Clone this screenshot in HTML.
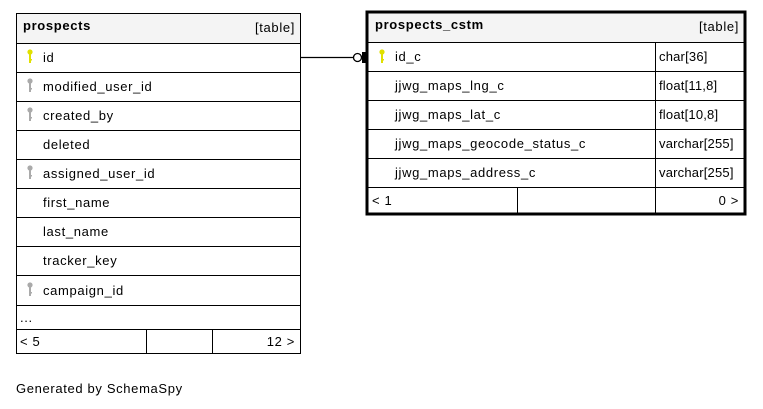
<!DOCTYPE html>
<html><head><meta charset="utf-8"><style>
html,body{margin:0;padding:0;background:#fff;width:763px;height:409px;overflow:hidden}
text{font-family:"Liberation Sans",Arial,sans-serif;font-size:13px;fill:#000;letter-spacing:0.65px}
</style></head><body>
<svg width="763" height="409" xmlns="http://www.w3.org/2000/svg">
<defs>
<g id="ky"><circle cx="0" cy="0" r="2.6"/><rect x="-1" y="2" width="2" height="9"/><rect x="0" y="7" width="2" height="1.5"/></g>
</defs>
<rect x="16.5" y="13.5" width="284" height="30" fill="#f4f4f4" stroke="#000"/>
<text x="23" y="30" font-weight="bold">prospects</text>
<text x="295" y="32" text-anchor="end">[table]</text>
<g stroke="#000" fill="#fff">
<rect x="16.5" y="43.5" width="284" height="29"/>
<rect x="16.5" y="72.5" width="284" height="29"/>
<rect x="16.5" y="101.5" width="284" height="29"/>
<rect x="16.5" y="130.5" width="284" height="29"/>
<rect x="16.5" y="159.5" width="284" height="29"/>
<rect x="16.5" y="188.5" width="284" height="29"/>
<rect x="16.5" y="217.5" width="284" height="29"/>
<rect x="16.5" y="246.5" width="284" height="29"/>
<rect x="16.5" y="275.5" width="284" height="30"/>
<rect x="16.5" y="305.5" width="284" height="24"/>
<rect x="16.5" y="329.5" width="130" height="24"/>
<rect x="146.5" y="329.5" width="66" height="24"/>
<rect x="212.5" y="329.5" width="88" height="24"/>
</g>
<use href="#ky" x="30" y="52" fill="#e0e000"/>
<use href="#ky" x="30" y="81" fill="#aaa"/>
<use href="#ky" x="30" y="110" fill="#aaa"/>
<use href="#ky" x="30" y="168" fill="#aaa"/>
<use href="#ky" x="30" y="285" fill="#aaa"/>
<text x="43" y="62">id</text>
<text x="43" y="91">modified_user_id</text>
<text x="43" y="120">created_by</text>
<text x="43" y="149">deleted</text>
<text x="43" y="178">assigned_user_id</text>
<text x="43" y="207">first_name</text>
<text x="43" y="236">last_name</text>
<text x="43" y="265">tracker_key</text>
<text x="43" y="295">campaign_id</text>
<text x="20" y="322">...</text>
<text x="20" y="346">&lt; 5</text>
<text x="295" y="346" text-anchor="end">12 &gt;</text>
<line x1="301" y1="57.5" x2="353" y2="57.5" stroke="#000" stroke-width="1.3"/>
<circle cx="357.5" cy="57.5" r="4" fill="#fff" stroke="#000" stroke-width="1.3"/>
<rect x="362" y="52" width="4" height="11" fill="#000"/>
<rect x="367.5" y="12.5" width="377" height="30" fill="#f4f4f4" stroke="#000"/>
<text x="375" y="29" font-weight="bold">prospects_cstm</text>
<text x="739" y="31" text-anchor="end">[table]</text>
<g stroke="#000" fill="#fff">
<rect x="367.5" y="42.5" width="288" height="29"/><rect x="655.5" y="42.5" width="89" height="29"/>
<rect x="367.5" y="71.5" width="288" height="29"/><rect x="655.5" y="71.5" width="89" height="29"/>
<rect x="367.5" y="100.5" width="288" height="29"/><rect x="655.5" y="100.5" width="89" height="29"/>
<rect x="367.5" y="129.5" width="288" height="29"/><rect x="655.5" y="129.5" width="89" height="29"/>
<rect x="367.5" y="158.5" width="288" height="29"/><rect x="655.5" y="158.5" width="89" height="29"/>
<rect x="367.5" y="187.5" width="150" height="26"/><rect x="517.5" y="187.5" width="138" height="26"/><rect x="655.5" y="187.5" width="89" height="26"/>
</g>
<rect x="367" y="12" width="378" height="202" fill="none" stroke="#000" stroke-width="3"/>
<use href="#ky" x="382" y="52" fill="#e0e000"/>
<text x="395" y="61">id_c</text>
<text x="395" y="90">jjwg_maps_lng_c</text>
<text x="395" y="119">jjwg_maps_lat_c</text>
<text x="395" y="148">jjwg_maps_geocode_status_c</text>
<text x="395" y="177">jjwg_maps_address_c</text>
<text x="659" y="61" style="letter-spacing:0.2px">char[36]</text>
<text x="659" y="90" style="letter-spacing:0.2px">float[11,8]</text>
<text x="659" y="119" style="letter-spacing:0.2px">float[10,8]</text>
<text x="659" y="148" style="letter-spacing:0.2px">varchar[255]</text>
<text x="659" y="177" style="letter-spacing:0.2px">varchar[255]</text>
<text x="372" y="205">&lt; 1</text>
<text x="739" y="205" text-anchor="end">0 &gt;</text>
<text x="16" y="393">Generated by SchemaSpy</text>
</svg>
</body></html>
